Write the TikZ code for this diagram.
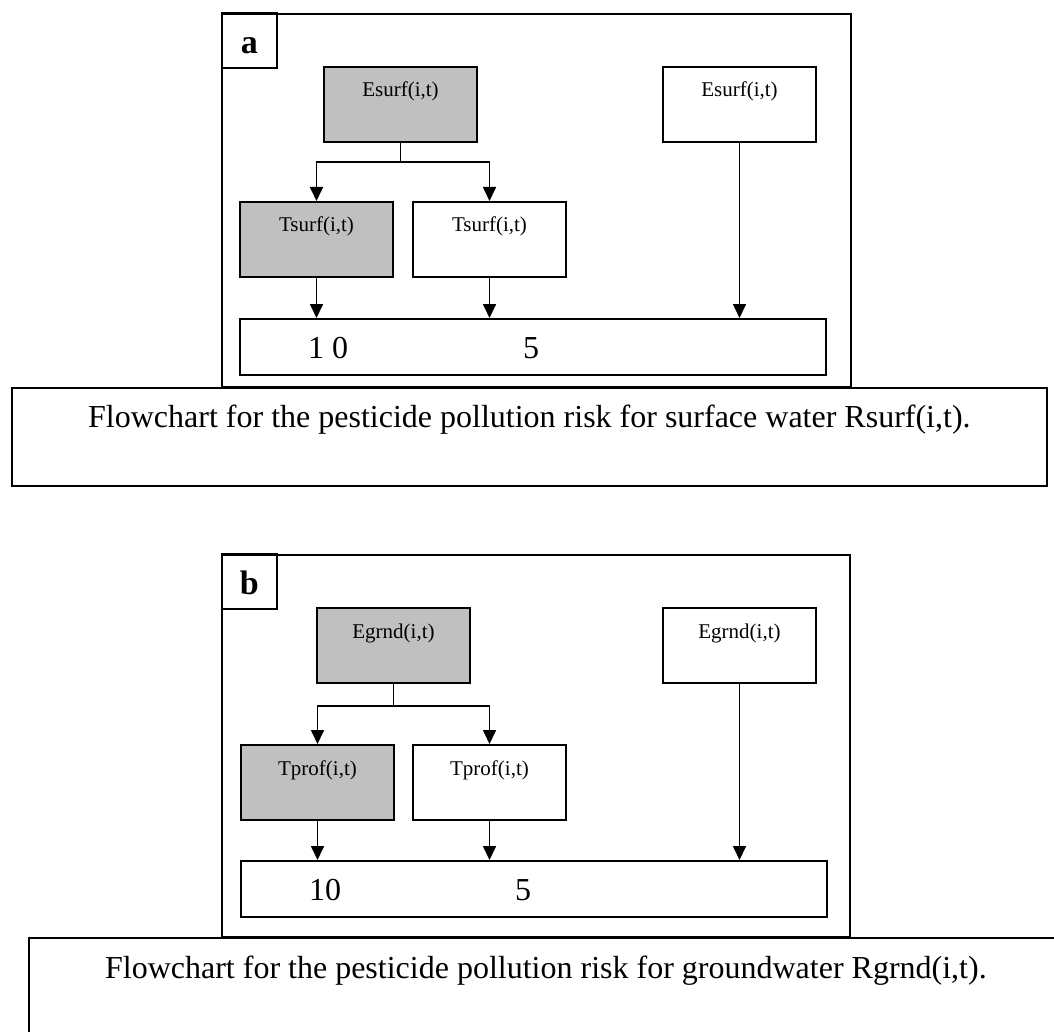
\documentclass[tikz,border=0pt]{standalone}
\usepackage{fontspec}
\setmainfont{Liberation Serif}
\usepackage{tikz}
\usetikzlibrary{arrows.meta}
\usepackage{xcolor}
\definecolor{boxgrey}{RGB}{192,192,192}
\newcommand{\fsz}[1]{\fontsize{#1}{#1}\selectfont}

\begin{document}
\begin{tikzpicture}[x=1pt, y=-1pt,
  frm/.style={draw, line width=1.8pt, anchor=north west, inner sep=0pt},
  lbl/.style={frm, minimum width=55pt, text height=41pt, text depth=14pt,
              font=\fsz{34}\bfseries},
  cbox/.style={draw, line width=2pt, anchor=north west, inner sep=0pt,
               minimum width=153pt, text height=30pt, text depth=45pt,
               font=\fsz{21}},
  gbox/.style={cbox, fill=boxgrey},
  rbox/.style={frm, line width=2pt, minimum width=586pt, minimum height=56pt},
  num/.style={anchor=base, font=\fsz{32}},
  capt/.style={frm, fill=white, font=\fsz{32}},
  arr/.style={line width=1.7pt, -{Triangle[length=14pt, width=13pt]}}
]
\useasboundingbox (0,0) rectangle (1054,1032);
\clip (0,0) rectangle (1054,1032);

% panel a
\node[frm, minimum width=629pt, minimum height=373pt] (fa) at (221,13) {};
\node[lbl] (la) at (221,12) {a};
\node[gbox] (ea1) at (323,66) {Esurf(i,t)};
\node[cbox] (eb1) at (662,66) {Esurf(i,t)};
\node[gbox] (ta1) at (239,201) {Tsurf(i,t)};
\node[cbox] (tb1) at (412,201) {Tsurf(i,t)};
\node[rbox] (ra1) at (239,318) {};
\node[num] (na1) at (328,358) {1 0};
\node[num] (nb1) at (531,358) {5};

\draw[line width=1.7pt] (ea1.south) -- ++(0,19) coordinate (ja1);
\draw[arr] (ja1) -| (ta1.north);
\draw[arr] (ja1) -| (tb1.north);
\draw[arr] (ta1.south) -- (ta1.south |- ra1.north);
\draw[arr] (tb1.south) -- (tb1.south |- ra1.north);
\draw[arr] (eb1.south) -- (eb1.south |- ra1.north);

\node[capt, minimum width=1035pt, text height=40pt, text depth=58pt] (ca) at (11,387)
  {Flowchart for the pesticide pollution risk for surface water Rsurf(i,t).};

% panel b
\node[frm, minimum width=628pt, minimum height=382pt] (fb) at (221,554) {};
\node[lbl] (lb) at (221,553) {b};
\node[gbox] (ea2) at (316,607) {Egrnd(i,t)};
\node[cbox] (eb2) at (662,607) {Egrnd(i,t)};
\node[gbox] (ta2) at (240,744) {Tprof(i,t)};
\node[cbox] (tb2) at (412,744) {Tprof(i,t)};
\node[rbox] (ra2) at (240,860) {};
\node[num] (na2) at (325,900) {10};
\node[num] (nb2) at (523,900) {5};

\draw[line width=1.7pt] (ea2.south) -- ++(0,22) coordinate (ja2);
\draw[arr] (ja2) -| (ta2.north);
\draw[arr] (ja2) -| (tb2.north);
\draw[arr] (ta2.south) -- (ta2.south |- ra2.north);
\draw[arr] (tb2.south) -- (tb2.south |- ra2.north);
\draw[arr] (eb2.south) -- (eb2.south |- ra2.north);

\node[capt, minimum width=1034pt, text height=41pt, text depth=80pt] (cb) at (28,937)
  {Flowchart for the pesticide pollution risk for groundwater Rgrnd(i,t).};
\end{tikzpicture}
\end{document}
